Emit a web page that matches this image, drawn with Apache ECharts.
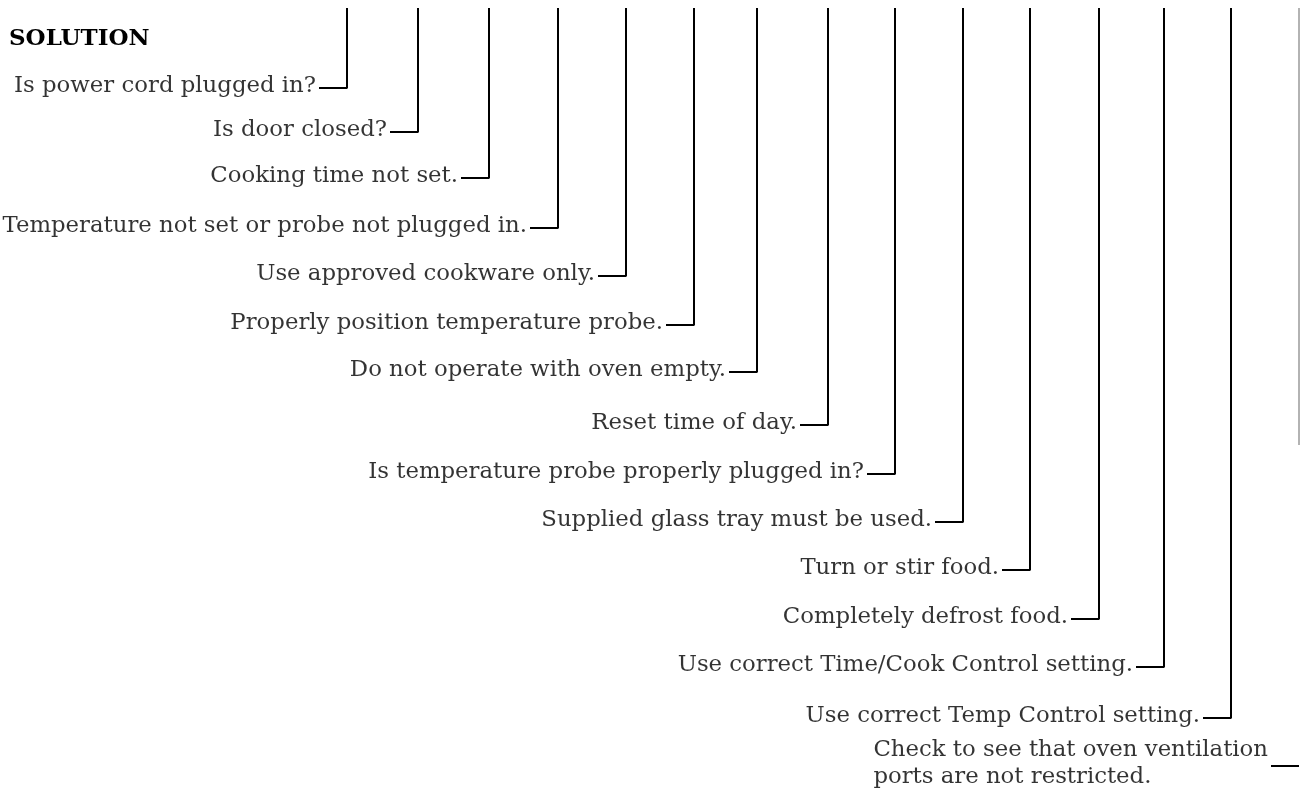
<!DOCTYPE html>
<html>
<head>
<meta charset="utf-8">
<script src="https://cdn.jsdelivr.net/npm/echarts@6/dist/echarts.min.js"></script>
<style>
html,body{margin:0;padding:0;background:#fff;}
#chart{width:1300px;height:805px;}
</style>
</head>
<body>
<div id="chart"></div>
<script>
// ---- data ----
const title = 'SOLUTION';
const solutions = [
  'Is power cord plugged in?',
  'Is door closed?',
  'Cooking time not set.',
  'Temperature not set or probe not plugged in.',
  'Use approved cookware only.',
  'Properly position temperature probe.',
  'Do not operate with oven empty.',
  'Reset time of day.',
  'Is temperature probe properly plugged in?',
  'Supplied glass tray must be used.',
  'Turn or stir food.',
  'Completely defrost food.',
  'Use correct Time/Cook Control setting.',
  'Use correct Temp Control setting.',
  'Check to see that oven ventilation\nports are not restricted.'
];
// column (problem) each solution connects to, in horizontal axis units
const columnPos = [347, 418, 489, 558, 626, 694, 757, 828, 895, 963, 1030, 1099, 1164, 1231, 1299];
// row level of each solution (vertical axis units, top = 0)
const rowLevel = [88, 132, 178, 228, 276, 325, 372, 425, 474, 522, 570, 619, 667, 718, 766];
const lineTop = 8;          // where the problem columns begin
const lastColumnEnd = 445;  // last (faint) column is cut by the page edge

// ---- build ----
const dash = 28;   // connector stub length
const gap = 31;
const series = [];
solutions.forEach((s, i) => {
  const c = columnPos[i], y = rowLevel[i];
  const last = i === solutions.length - 1;
  const pts = last ? [[c, y], [c - dash, y]] : [[c, lineTop], [c, y], [c - dash, y]];
  series.push({
    type: 'line', data: pts, symbol: 'none', silent: true, animation: false,
    lineStyle: { color: '#000', width: 2 }
  });
});
// faint last column
series.push({
  type: 'line', data: [[columnPos[14], lineTop], [columnPos[14], lastColumnEnd]], symbol: 'none', silent: true, animation: false,
  lineStyle: { color: '#9a9a9a', width: 1.5 }
});
// labels
const FONT = 'DejaVu Serif';
const FS = 22.8;
series.push({
  type: 'scatter', symbolSize: 0, animation: false, silent: true,
  data: solutions.map((s, i) => ({ value: [columnPos[i] - gap, rowLevel[i]], name: s })),
  label: {
    show: true, position: 'left', distance: 0, offset: [0, -2],
    color: '#000', fontFamily: FONT, fontSize: FS,
    formatter: p => p.name.split('\n').map(t => '{a|' + t + '}').join('\n'),
    rich: { a: { align: 'left', fontFamily: FONT, fontSize: FS, color: '#000', lineHeight: 27 } }
  }
});

const chart = echarts.init(document.getElementById('chart'));
chart.setOption({
  backgroundColor: '#fff',
  animation: false,
  title: {
    text: title, left: 4, top: 23,
    textStyle: { fontFamily: FONT, fontWeight: 'bold', fontSize: 23, color: '#000' }
  },
  grid: { left: 0, right: 0, top: 0, bottom: 0 },
  xAxis: { type: 'value', min: 0, max: 1300, show: false },
  yAxis: { type: 'value', min: 0, max: 805, inverse: true, show: false },
  series
});
</script>
</body>
</html>
